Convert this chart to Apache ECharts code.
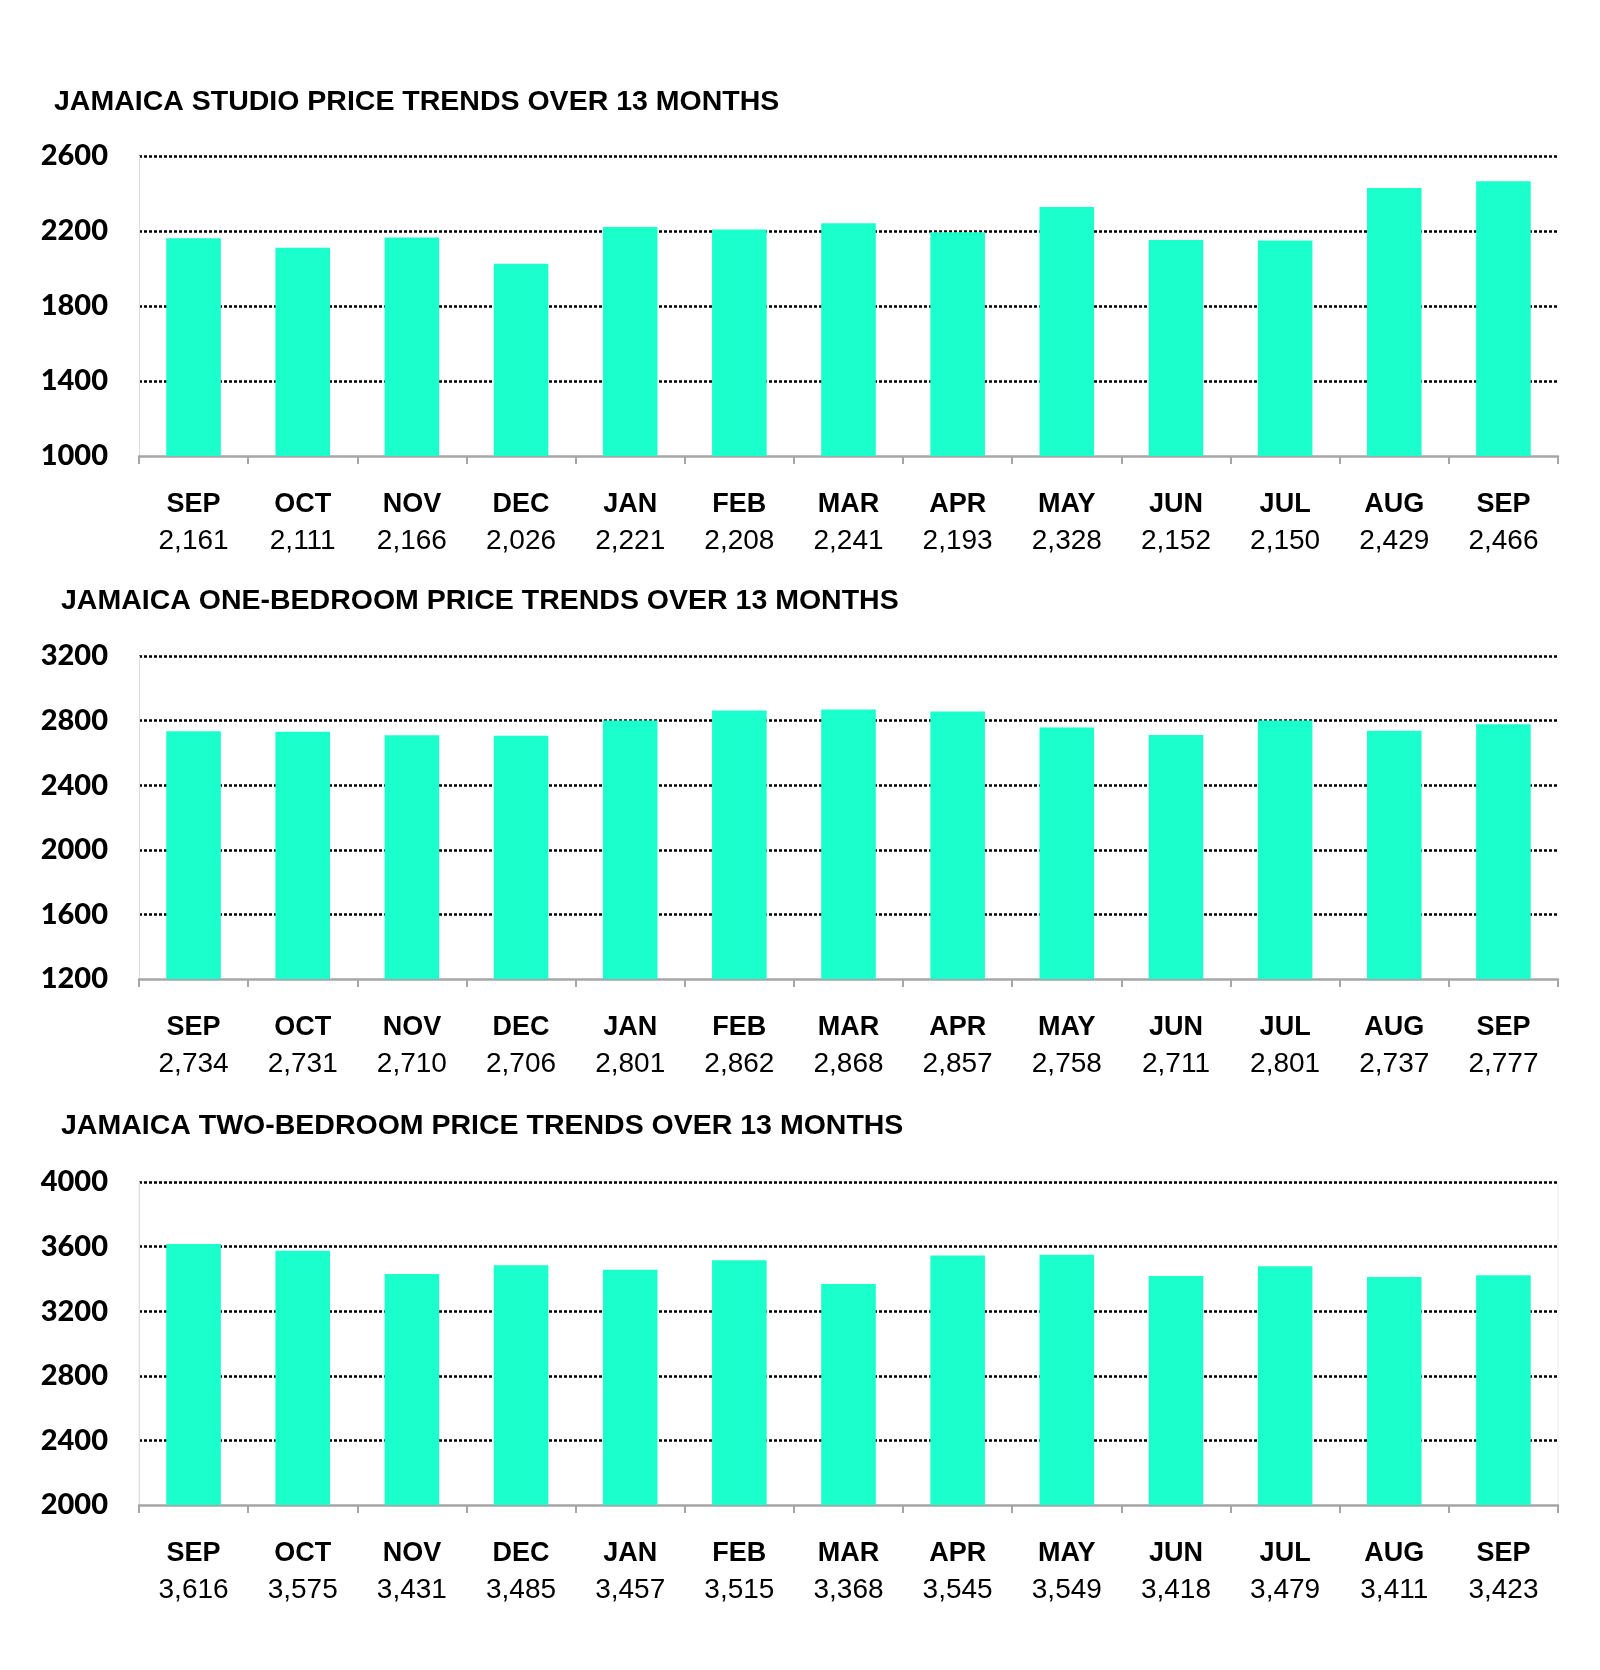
<!DOCTYPE html>
<html><head><meta charset="utf-8">
<script src="https://cdn.jsdelivr.net/npm/echarts@6/dist/echarts.min.js"></script>
<style>html,body{margin:0;padding:0;background:#fff}#c{width:1600px;height:1670px}</style>
</head><body><div id="c"></div>
<script>
const months = ['SEP','OCT','NOV','DEC','JAN','FEB','MAR','APR','MAY','JUN','JUL','AUG','SEP'];
const studioValues = [2161, 2111, 2166, 2026, 2221, 2208, 2241, 2193, 2328, 2152, 2150, 2429, 2466];
const oneBedValues = [2734, 2731, 2710, 2706, 2801, 2862, 2868, 2857, 2758, 2711, 2801, 2737, 2777];
const twoBedValues = [3616, 3575, 3431, 3485, 3457, 3515, 3368, 3545, 3549, 3418, 3479, 3411, 3423];
const chartTitles = [
  'JAMAICA STUDIO PRICE TRENDS OVER 13 MONTHS',
  'JAMAICA ONE-BEDROOM PRICE TRENDS OVER 13 MONTHS',
  'JAMAICA TWO-BEDROOM PRICE TRENDS OVER 13 MONTHS'
];
const studioAxis = [1000, 2600, 400];
const oneBedAxis = [1200, 3200, 400];
const twoBedAxis = [2000, 4000, 400];

const seriesValues = [studioValues, oneBedValues, twoBedValues];
const axes = [studioAxis, oneBedAxis, twoBedAxis];
const layout = [
  {titleLeft: 54, titleTop: 88, top: 156, height: 300, border: false},
  {titleLeft: 61, titleTop: 587, top: 656, height: 323, border: false},
  {titleLeft: 61, titleTop: 1112, top: 1182, height: 323, border: true}
];
const barColor = '#1AFFCC';
const fmt = n => n.toLocaleString('en-US');
const sansFont = '"Liberation Sans", Arial, sans-serif';

const option = {
  backgroundColor: '#fff',
  animation: false,
  title: chartTitles.map((t, i) => ({
    text: t, left: layout[i].titleLeft, top: layout[i].titleTop, padding: 0,
    textStyle: {fontFamily: sansFont, fontWeight: 'bold', fontSize: 28.5, color: '#000', lineHeight: 29}
  })),
  grid: layout.map(l => ({
    left: 139, right: 42, top: l.top, height: l.height,
    show: l.border, borderColor: '#EDEDED', borderWidth: 1, backgroundColor: 'transparent'
  })),
  xAxis: seriesValues.map((vals, i) => ({
    type: 'category', gridIndex: i, data: months,
    axisLine: {show: true, lineStyle: {color: '#A6A6A6', width: 2.5}},
    axisTick: {show: true, length: 8, lineStyle: {color: '#A6A6A6', width: 2}},
    axisLabel: {
      interval: 0, margin: 30,
      formatter: (v, idx) => '{m|' + months[idx] + '}\n{v|' + fmt(vals[idx]) + '}',
      rich: {
        m: {fontFamily: sansFont, fontWeight: 'bold', fontSize: 27, color: '#000', lineHeight: 37},
        v: {fontFamily: sansFont, fontWeight: 'normal', fontSize: 28, color: '#000', lineHeight: 37}
      }
    },
    splitLine: {show: false}
  })),
  yAxis: axes.map((a, i) => ({
    type: 'value', gridIndex: i, min: a[0], max: a[1], interval: a[2],
    axisLine: {show: true, lineStyle: {color: '#DDDDDD', width: 1}},
    axisTick: {show: false},
    axisLabel: {margin: 31, fontFamily: 'Lato, sans-serif', fontWeight: 900, fontSize: 29, color: '#000',
      formatter: v => String(v)},
    splitLine: {show: true, showMinLine: false, lineStyle: {color: '#000', type: [3, 2], width: 2.5}}
  })),
  series: seriesValues.map((vals, i) => ({
    type: 'bar', xAxisIndex: i, yAxisIndex: i, data: vals,
    barWidth: '50%', itemStyle: {color: barColor}
  }))
};
const chart = echarts.init(document.getElementById('c'), null, {renderer: 'canvas'});
chart.setOption(option);
</script>
</body></html>
